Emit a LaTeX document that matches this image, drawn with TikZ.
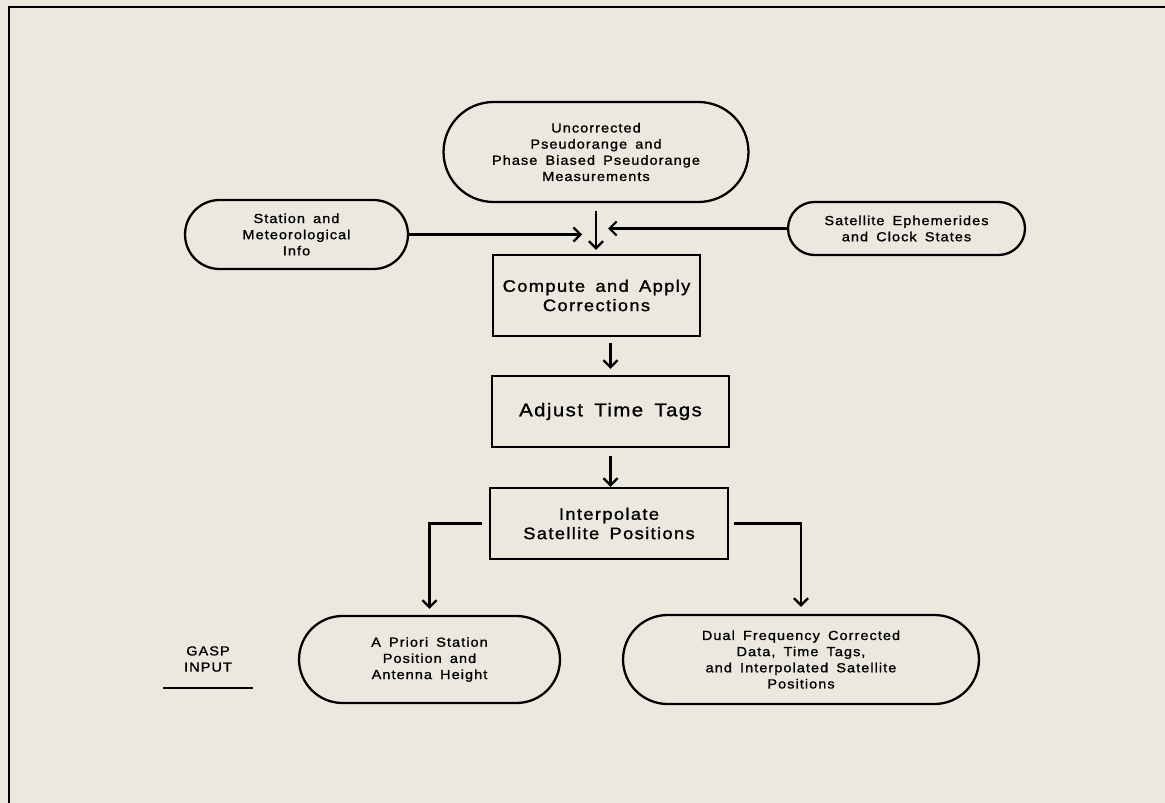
\documentclass[tikz,border=0pt]{standalone}
\usepackage{fontspec}
\setmainfont{Liberation Sans}[LetterSpace=8,WordSpace=1.6,FakeStretch=1.1,FakeBold=1.2]
\usepackage{xcolor}
\usepackage{tikz}
\usetikzlibrary{
	arrows.meta,shapes.misc
}
\definecolor{paper}{RGB}{235,233,223}

\begin{document}
\begin{tikzpicture}[x=0.02cm,y=-0.02cm,line width=1.3pt,
	>={Straight Barb[length=4pt,width=8pt]},
	term/.style={draw,rounded rectangle,inner sep=0pt,align=center},
	proc/.style={draw,rectangle,inner sep=0pt,align=center},
	small/.style={font=\fontsize{7.5}{9.2}\selectfont},
	mid/.style={font=\fontsize{9.5}{11}\selectfont}]
	\fill[paper] (0,0) rectangle (1165,803);
	\useasboundingbox (0,0) rectangle (1165,803);
	\draw[line width=1.6pt] (9,803) -- (9,7) -- (1165,7);
	% nodes
	\node[term,small,minimum width=6.1cm,minimum height=2cm] (meas) at (596,152)
		{Uncorrected\\Pseudorange and\\Phase Biased Pseudorange\\Measurements};
	\node[term,small,minimum width=4.46cm,minimum height=1.38cm] (station) at (296.5,234.5)
		{Station and\\Meteorological\\Info};
	\node[term,small,minimum width=4.74cm,minimum height=1.06cm] (ephem) at (906.5,228.5)
		{Satellite Ephemerides\\and Clock States};
	\node[proc,mid,minimum width=4.14cm,minimum height=1.62cm] (compute) at (596.5,295.5)
		{Compute and Apply\\Corrections};
	\node[proc,minimum width=4.74cm,minimum height=1.42cm,font=\fontsize{10.5}{12}\selectfont] (adjust) at (610.5,411.5)
		{Adjust Time Tags};
	\node[proc,mid,minimum width=4.76cm,minimum height=1.42cm] (interp) at (609,523.5)
		{Interpolate\\Satellite Positions};
	\node[term,small,minimum width=5.22cm,minimum height=1.74cm] (apriori) at (429.5,659.5)
		{A Priori Station\\Position and\\Antenna Height};
	\node[term,small,minimum width=7.12cm,minimum height=1.78cm] (dual) at (801,659.5)
		{Dual Frequency Corrected\\Data, Time Tags,\\and Interpolated Satellite\\Positions};
	\node[small,align=center] (gasp) at (208,659) {GASP\\INPUT};
	\coordinate (jl) at (582,236);
	\coordinate (jr) at (608,228);
	%
	\draw (163,688) -- (253,688);
	% inputs
	\draw[->,shorten <=0.16cm,shorten >=0.08cm] (meas.south) -- (meas.south |- compute.north);
	\draw[->] (station.east) -- (station.east -| jl);
	\draw[->] (ephem.west) -- (ephem.west -| jr);
	% chain
	\draw[->,shorten <=0.12cm,shorten >=0.12cm] (compute.south -| adjust.north) -- (adjust.north);
	\draw[->,shorten <=0.16cm] (adjust.south) -- (adjust.south |- interp.north);
	% outputs
	\draw[->,shorten >=0.12cm] ([xshift=-0.14cm]interp.west) -| (apriori.north);
	\draw[->,shorten >=0.14cm] ([xshift=0.1cm]interp.east) -| (dual.north);
\end{tikzpicture}
\end{document}
